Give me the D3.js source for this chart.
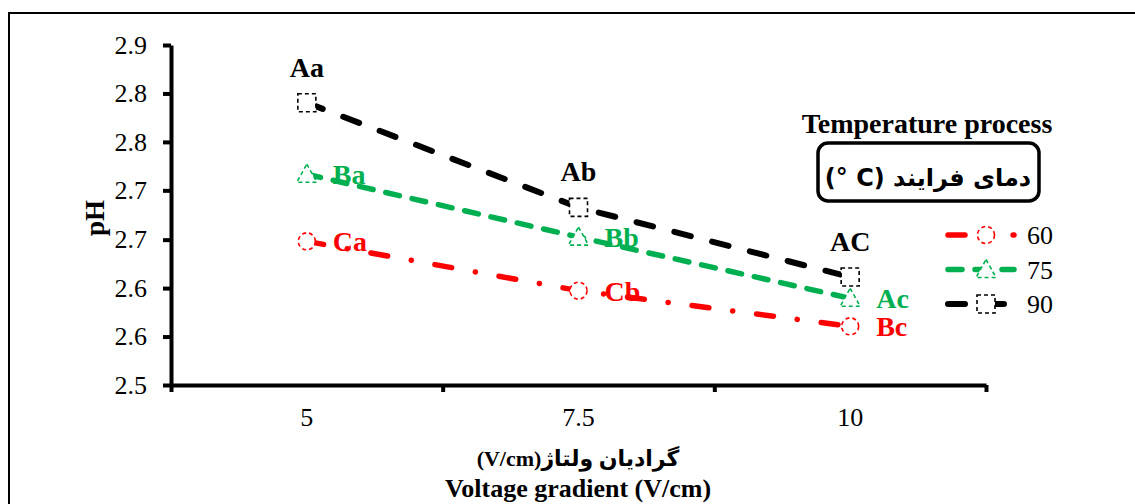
<!DOCTYPE html>
<html lang="en">
<head>
    <meta charset="UTF-8">
    <title>pH vs voltage gradient</title>
    <style>
        body { margin: 0; background: #fff; }
        .axis path,
        .axis line {
            fill: none;
            stroke: black;
            stroke-width: 4;
        }
        .axis text {
            font-family: "Liberation Serif", "Times New Roman", serif;
            font-size: 26px;
            fill: black;
        }
    </style>
</head>
<body>
<script src="https://cdn.jsdelivr.net/npm/d3@7"></script>
<script>
    var width = 1135;
    var height = 504;

    // data
    var gradients = ["5", "7.5", "10"];
    var temps = ["60", "75", "90"];
    var ph60 = [2.669, 2.611, 2.569];
    var ph75 = [2.748, 2.674, 2.602];
    var ph90 = [2.832, 2.709, 2.627];
    var letters60 = ["Ca", "Cb", "Bc"];
    var letters75 = ["Ba", "Bb", "Ac"];
    var letters90 = ["Aa", "Ab", "AC"];
    // 8 ticks from 2.5 to 2.9, labels rounded to one decimal as in the picture
    var yTicks = [2.5, 2.557, 2.614, 2.671, 2.729, 2.786, 2.843, 2.9];
    var yTickLabels = ["2.5", "2.6", "2.6", "2.7", "2.7", "2.8", "2.8", "2.9"];

    var serif = '"Liberation Serif", "Times New Roman", serif';

    var series = [
        {name: temps[0], values: ph60, letters: letters60, color: "#ff0000", dash: "17 24 0.1 24", shape: "circle", lw: 5.5},
        {name: temps[1], values: ph75, letters: letters75, color: "#00b050", dash: "14 13", shape: "triangle", lw: 5.5},
        {name: temps[2], values: ph90, letters: letters90, color: "#000000", dash: "17 22", shape: "square", lw: 6}
    ];

    var svg = d3.select("body").append("svg")
        .attr("width", width)
        .attr("height", height);

    // outer frame
    svg.append("rect")
        .attr("x", 9).attr("y", 13)
        .attr("width", 1200).attr("height", 600)
        .attr("fill", "none")
        .attr("stroke", "black")
        .attr("stroke-width", 2);

    var x = d3.scaleBand().domain(gradients).range([171, 986]);
    var xEdge = d3.scaleLinear().domain([0, 3]).range([171, 986]);
    var y = d3.scaleLinear().domain([2.5, 2.9]).range([385, 45]);
    function px(i) { return x(gradients[i]) + x.bandwidth() / 2; }

    // y axis
    svg.append("g")
        .attr("class", "axis")
        .attr("transform", "translate(171,0)")
        .call(d3.axisLeft(y)
            .tickValues(yTicks)
            .tickFormat(function(d, i) { return yTickLabels[i]; })
            .tickSizeInner(8).tickSizeOuter(0).tickPadding(16));

    // x axis: boundary ticks and centred labels
    svg.append("g")
        .attr("class", "axis")
        .attr("transform", "translate(0,385)")
        .call(d3.axisBottom(xEdge).tickValues([0, 1, 2, 3]).tickFormat("")
            .tickSizeInner(7).tickSizeOuter(0));
    svg.append("g")
        .attr("class", "axis xlab")
        .attr("transform", "translate(0,385)")
        .call(d3.axisBottom(x).tickSize(0).tickPadding(23));
    svg.select(".xlab path").remove();

    // lines
    var line = d3.line()
        .x(function(d, i) { return px(i); })
        .y(function(d) { return y(d); });

    series.forEach(function(s) {
        svg.append("path")
            .datum(s.values)
            .attr("d", line)
            .attr("fill", "none")
            .attr("stroke", s.color)
            .attr("stroke-width", s.lw)
            .attr("stroke-linecap", "round")
            .attr("stroke-dasharray", s.dash);
    });

    function marker(g, shape, color) {
        var m;
        if (shape === "circle") {
            m = g.append("circle").attr("r", 8.5);
        } else if (shape === "triangle") {
            m = g.append("path").attr("d", "M0,-10L10,8L-10,8Z");
        } else {
            m = g.append("rect").attr("x", -9).attr("y", -9).attr("width", 18).attr("height", 18);
        }
        m.attr("fill", "white")
            .attr("stroke", color)
            .attr("stroke-width", 1.6)
            .attr("stroke-dasharray", "4 3");
    }

    series.forEach(function(s) {
        s.values.forEach(function(v, i) {
            var g = svg.append("g").attr("transform", "translate(" + px(i) + "," + y(v) + ")");
            marker(g, s.shape, s.color);
        });
    });

    // significance letters
    series.forEach(function(s) {
        s.values.forEach(function(v, i) {
            var t = svg.append("text")
                .attr("font-family", serif)
                .attr("font-weight", "bold")
                .attr("font-size", 28)
                .attr("fill", s.color)
                .text(s.letters[i]);
            if (s.name === "90") {
                t.attr("x", px(i)).attr("y", y(v) - 26).attr("text-anchor", "middle");
            } else {
                t.attr("x", px(i) + 26).attr("y", y(v) + 10);
            }
        });
    });

    // axis titles
    svg.append("text")
        .attr("transform", "translate(104,218) rotate(-90)")
        .attr("text-anchor", "middle")
        .attr("font-family", serif)
        .attr("font-weight", "bold")
        .attr("font-size", 27)
        .text("pH");

    svg.append("text")
        .attr("x", 578).attr("y", 466)
        .attr("text-anchor", "middle")
        .attr("direction", "rtl")
        .attr("font-family", serif + ', "DejaVu Sans"')
        .attr("font-weight", "bold")
        .attr("font-size", 22)
        .text("گرادیان ولتاژ(V/cm)");

    svg.append("text")
        .attr("x", 578).attr("y", 497)
        .attr("text-anchor", "middle")
        .attr("font-family", serif)
        .attr("font-weight", "bold")
        .attr("font-size", 26)
        .text("Voltage gradient (V/cm)");

    // legend
    svg.append("text")
        .attr("x", 927).attr("y", 133)
        .attr("text-anchor", "middle")
        .attr("font-family", serif)
        .attr("font-weight", "bold")
        .attr("font-size", 28)
        .text("Temperature process");

    svg.append("rect")
        .attr("x", 818).attr("y", 143)
        .attr("width", 221).attr("height", 58)
        .attr("rx", 10)
        .attr("fill", "white")
        .attr("stroke", "black")
        .attr("stroke-width", 3.5);

    svg.append("text")
        .attr("x", 928).attr("y", 186)
        .attr("text-anchor", "middle")
        .attr("direction", "rtl")
        .attr("font-family", '"DejaVu Sans", sans-serif')
        .attr("font-weight", "bold")
        .attr("font-size", 24)
        .text("دمای فرایند (C °)");

    var legend = svg.selectAll(".leg")
        .data(series)
        .enter().append("g")
        .attr("class", "leg")
        .attr("transform", function(d, i) { return "translate(948," + (235 + i * 34.5) + ")"; });

    legend.append("line")
        .attr("x1", 0).attr("x2", 66)
        .attr("stroke", function(d) { return d.color; })
        .attr("stroke-width", function(d) { return d.lw; })
        .attr("stroke-linecap", "round")
        .attr("stroke-dasharray", function(d) { return d.dash; });
    legend.each(function(d) {
        var g = d3.select(this).append("g").attr("transform", "translate(38,0)");
        marker(g, d.shape, d.color);
    });
    legend.append("text")
        .attr("x", 79).attr("y", 9)
        .attr("font-family", serif)
        .attr("font-size", 26)
        .text(function(d) { return d.name; });
</script>
</body>
</html>
